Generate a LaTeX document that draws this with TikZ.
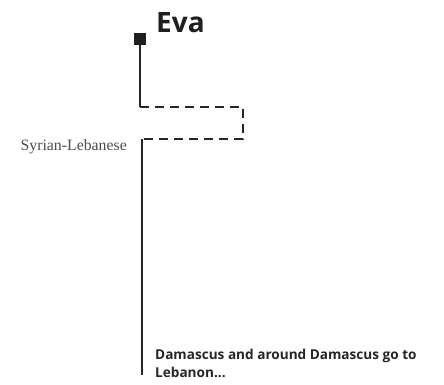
\documentclass[tikz,border=0pt]{standalone}
\usepackage{fontspec}
\usepackage{xcolor}
\setmainfont{Liberation Serif}
\newfontfamily\opensans{Open Sans}
\usepackage{tikz}
\tikzset{
  lnsolid/.style={line width=1.2pt, draw=black!85, line cap=butt},
  lndash/.style={line width=1.2pt, draw=black!85, dash pattern=on 9pt off 6pt},
  lnhead/.style={fill=black!88, draw=none, minimum size=12pt, inner sep=0pt},
  lnname/.style={font=\opensans\bfseries\fontsize{28}{30}\selectfont, text=black!88, inner sep=0pt, anchor=base west},
  lnplace/.style={font=\fontsize{15.8}{18}\selectfont, text=black!70, inner sep=0pt, anchor=base east},
  lnnote/.style={font=\opensans\bfseries\fontsize{13.6}{18}\selectfont, text=black!85, inner sep=0pt, anchor=base west, align=left},
}
\begin{document}
\begin{tikzpicture}[x=1pt,y=-1pt]
\useasboundingbox (0,0) rectangle (444,385);
\node[lnhead] (head) at (140,39) {};
\node[lnname] (eva) at (156,33) {Eva};
\coordinate (a1) at (140,107);
\coordinate (a2) at (243,107);
\coordinate (a3) at (243,139);
\coordinate (a4) at (142,139);
\coordinate (a5) at (142,375);
\draw[lnsolid] (head.south) -- (a1);
\draw[lndash] (a1) -- (a2) -- (a3) -- (a4);
\draw[lnsolid] (a4) -- (a5);
\node[lnplace] (place) at (127,150) {Syrian-Lebanese};
\node[lnnote] (note) at (155,377) {Damascus and around Damascus go to\\Lebanon...};
\end{tikzpicture}
\end{document}
